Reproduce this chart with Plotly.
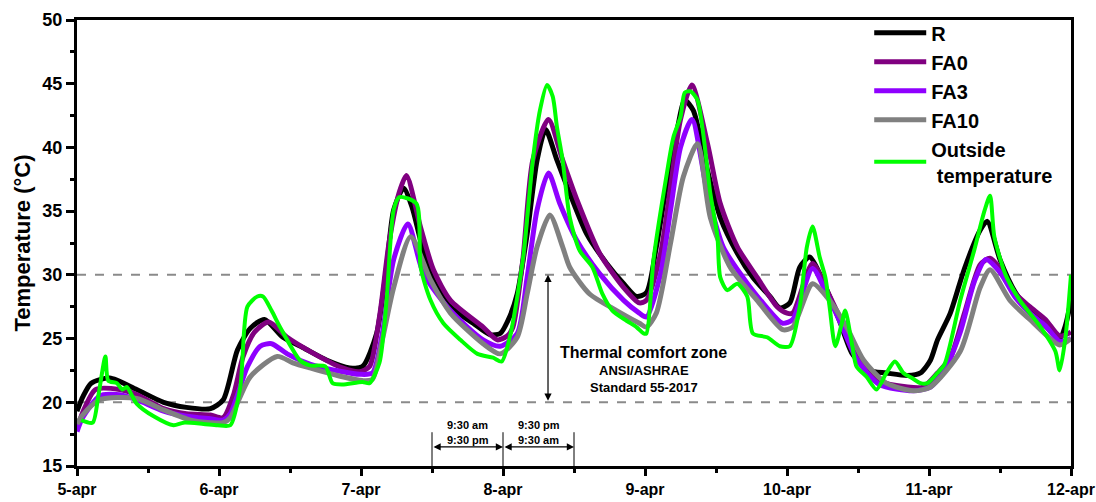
import plotly.graph_objects as go

# ---- data (x = days since 5-apr 00:00) ----
day_labels = ["5-apr", "6-apr", "7-apr", "8-apr", "9-apr", "10-apr", "11-apr", "12-apr"]

r_t = [0, 0.04, 0.10, 0.23, 0.42, 0.61, 0.77, 0.94, 1.03, 1.13, 1.22, 1.32, 1.45, 1.59, 1.76, 1.92,
       2.01, 2.11, 2.18, 2.23, 2.30, 2.36, 2.42, 2.51, 2.63, 2.79, 2.91, 2.98, 3.05, 3.10, 3.17, 3.24,
       3.30, 3.38, 3.47, 3.59, 3.73, 3.85, 3.94, 4.01, 4.08, 4.15, 4.23, 4.28, 4.34, 4.44, 4.53, 4.65,
       4.76, 4.88, 4.95, 5.02, 5.09, 5.16, 5.23, 5.30, 5.37, 5.46, 5.58, 5.70, 5.85, 5.94, 6.01, 6.06,
       6.15, 6.25, 6.36, 6.41, 6.50, 6.61, 6.71, 6.82, 6.92, 6.96, 7.0]
r_v = [19.3, 20.4, 21.5, 21.9, 21.0, 20.0, 19.6, 19.5, 20.2, 24.1, 25.8, 26.5, 25.1, 24.3, 23.3, 22.7,
       22.8, 25.4, 30.6, 35.1, 36.8, 35.3, 32.7, 29.6, 27.5, 26.2, 25.3, 25.4, 26.8, 28.5, 33.2, 39.0,
       41.4, 39.0, 36.4, 33.2, 30.9, 29.3, 28.3, 28.6, 32.2, 36.9, 41.6, 43.7, 42.9, 38.2, 34.5, 31.7,
       29.8, 28.3, 27.4, 27.8, 30.6, 31.4, 30.1, 28.3, 26.4, 23.8, 22.5, 22.3, 22.1, 22.3, 23.3, 24.9,
       27.0, 30.5, 33.5, 34.2, 31.2, 28.6, 27.2, 26.0, 25.0, 26.0, 28.0]

fa0_t = [0, 0.04, 0.13, 0.30, 0.42, 0.61, 0.77, 0.94, 1.03, 1.10, 1.17, 1.25, 1.35, 1.48, 1.64, 1.87,
         1.99, 2.06, 2.13, 2.20, 2.27, 2.32, 2.42, 2.51, 2.63, 2.86, 2.96, 3.03, 3.07, 3.14, 3.21, 3.32,
         3.42, 3.52, 3.68, 3.85, 3.96, 4.01, 4.11, 4.18, 4.25, 4.33, 4.44, 4.53, 4.65, 4.79, 4.93, 5.0,
         5.04, 5.18, 5.28, 5.39, 5.49, 5.65, 5.85, 5.96, 6.06, 6.15, 6.25, 6.36, 6.43, 6.50, 6.61, 6.71,
         6.82, 6.92, 7.0]
fa0_v = [17.9, 19.2, 21.0, 21.0, 20.6, 19.5, 19.1, 19.0, 18.8, 20.5, 23.6, 25.5, 26.3, 25.1, 24.0, 22.7,
         22.4, 22.8, 26.7, 32.7, 36.5, 37.8, 33.7, 30.4, 28.0, 25.9, 24.9, 25.2, 25.9, 31.2, 39.0, 42.2,
         39.0, 35.9, 31.7, 29.0, 27.8, 28.0, 31.7, 36.9, 42.2, 44.9, 40.3, 35.6, 32.2, 29.8, 27.5, 27.0,
         27.0, 30.9, 28.8, 26.2, 23.6, 21.7, 21.2, 21.2, 22.3, 23.5, 27.0, 30.8, 31.3, 30.5, 28.5, 27.5,
         26.5, 25.2, 25.5]

fa3_t = [0, 0.04, 0.16, 0.30, 0.42, 0.61, 0.77, 0.94, 1.03, 1.08, 1.20, 1.29, 1.37, 1.48, 1.64, 1.87,
         1.99, 2.08, 2.15, 2.23, 2.33, 2.44, 2.63, 2.86, 2.98, 3.10, 3.17, 3.24, 3.32, 3.40, 3.52, 3.68,
         3.85, 3.96, 4.01, 4.11, 4.18, 4.25, 4.33, 4.44, 4.55, 4.69, 4.83, 4.97, 5.04, 5.18, 5.28, 5.39,
         5.49, 5.65, 5.89, 6.01, 6.11, 6.22, 6.32, 6.40, 6.50, 6.61, 6.71, 6.82, 6.92, 7.0]
fa3_v = [17.7, 18.8, 20.5, 20.6, 20.2, 19.3, 18.9, 18.7, 18.6, 19.1, 22.8, 24.4, 24.6, 23.8, 23.0, 22.4,
         22.2, 22.3, 25.4, 31.2, 34.0, 30.1, 27.2, 24.9, 24.4, 25.4, 29.8, 35.1, 38.0, 35.6, 32.7, 30.1,
         28.0, 27.0, 26.7, 30.1, 35.1, 40.0, 42.2, 36.4, 32.2, 29.8, 27.8, 26.2, 26.5, 30.5, 28.5, 25.9,
         23.4, 21.4, 20.9, 21.2, 22.5, 25.5, 29.5, 31.2, 30.2, 28.2, 27.0, 26.0, 24.8, 25.0]

fa10_t = [0, 0.04, 0.16, 0.42, 0.61, 0.80, 0.94, 1.03, 1.08, 1.22, 1.41, 1.52, 1.64, 1.87, 2.01, 2.08,
          2.15, 2.23, 2.35, 2.49, 2.63, 2.86, 2.98, 3.10, 3.17, 3.24, 3.33, 3.42, 3.47, 3.61, 3.80, 3.96,
          4.01, 4.08, 4.18, 4.27, 4.37, 4.46, 4.60, 4.79, 4.97, 5.04, 5.18, 5.30, 5.42, 5.54, 5.70, 5.89,
          6.01, 6.22, 6.36, 6.43, 6.57, 6.71, 6.92, 7.0]
fa10_v = [18.3, 19.0, 20.2, 20.3, 19.4, 18.6, 18.4, 18.4, 18.8, 22.0, 23.6, 23.1, 22.7, 22.0, 21.7, 21.8,
          24.9, 29.0, 33.0, 29.6, 27.0, 24.6, 23.8, 25.1, 28.5, 32.2, 34.7, 32.2, 30.6, 28.5, 27.2, 26.2,
          25.9, 27.0, 32.5, 37.7, 40.3, 34.5, 30.6, 28.0, 25.7, 25.9, 29.3, 28.0, 25.9, 23.3, 21.5, 20.9,
          21.2, 24.0, 29.0, 30.4, 28.0, 26.5, 24.5, 25.0]

out_t = [0.03, 0.11, 0.15, 0.20, 0.22, 0.28, 0.32, 0.35, 0.42, 0.54, 0.68, 0.75, 0.89, 0.99, 1.08, 1.15,
         1.20, 1.27, 1.31, 1.37, 1.43, 1.57, 1.64, 1.75, 1.80, 1.87, 2.01, 2.06, 2.13, 2.18, 2.23, 2.27,
         2.39, 2.42, 2.49, 2.58, 2.70, 2.82, 2.93, 2.99, 3.05, 3.14, 3.21, 3.26, 3.31, 3.35, 3.38, 3.42,
         3.47, 3.54, 3.63, 3.70, 3.77, 3.87, 3.94, 3.99, 4.01, 4.06, 4.15, 4.20, 4.25, 4.28, 4.32, 4.37,
         4.46, 4.51, 4.53, 4.58, 4.65, 4.72, 4.76, 4.86, 4.95, 5.02, 5.09, 5.14, 5.18, 5.23, 5.27, 5.30,
         5.34, 5.39, 5.41, 5.46, 5.49, 5.56, 5.63, 5.70, 5.76, 5.82, 5.88, 5.94, 5.99, 6.06, 6.11, 6.22,
         6.32, 6.39, 6.43, 6.46, 6.54, 6.64, 6.78, 6.89, 6.92, 6.96, 7.0]
out_v = [18.6, 18.4, 20.5, 23.6, 21.7, 21.5, 21.0, 21.2, 19.9, 18.9, 18.2, 18.4, 18.3, 18.2, 18.2, 21.2,
         27.5, 28.3, 28.3, 27.2, 25.9, 23.3, 22.9, 22.8, 21.5, 21.4, 21.6, 21.5, 23.1, 28.0, 35.1, 36.1,
         35.6, 30.6, 28.0, 26.2, 24.9, 23.8, 23.5, 23.2, 25.2, 31.2, 39.0, 42.9, 44.9, 44.0, 41.6, 39.0,
         34.5, 31.9, 30.6, 28.5, 27.2, 26.4, 25.9, 25.4, 25.4, 31.2, 37.7, 40.8, 42.4, 44.3, 44.4, 43.7,
         36.4, 33.0, 29.8, 28.8, 29.3, 28.3, 25.4, 25.1, 24.4, 24.4, 27.5, 32.2, 33.8, 31.4, 29.8, 27.5,
         24.4, 26.4, 27.2, 24.4, 22.8, 22.0, 21.0, 22.3, 23.2, 22.3, 21.9, 21.5, 21.5, 22.3, 23.0, 28.0,
         32.0, 35.0, 36.2, 33.0, 30.0, 28.0, 26.0, 24.0, 22.5, 25.0, 30.0]

series = [
    ("R", r_t, r_v, "#000000", 5),
    ("FA0", fa0_t, fa0_v, "#800080", 5),
    ("FA3", fa3_t, fa3_v, "#8f00ff", 5),
    ("FA10", fa10_t, fa10_v, "#808080", 5),
    ("Outside<br> temperature", out_t, out_v, "#00ff00", 4),
]

FONT = "Liberation Sans, Arial, sans-serif"

fig = go.Figure()
for name, t, v, col, w in series:
    fig.add_trace(go.Scatter(
        x=t, y=v, mode="lines", name=name,
        line=dict(color=col, width=w, shape="spline", smoothing=0.7),
    ))

# comfort zone boundaries
for yv in (30, 20):
    fig.add_shape(type="line", xref="paper", x0=0, x1=1, yref="y", y0=yv, y1=yv,
                  line=dict(color="#8a8a8a", width=2, dash="dash"), layer="below")

# vertical double arrow
fig.add_annotation(x=3.317, y=30, ax=3.317, ay=20, xref="x", yref="y", axref="x", ayref="y",
                   text="", showarrow=True, arrowhead=2, arrowside="end+start",
                   arrowsize=1.2, arrowwidth=1.2, arrowcolor="#000000")

fig.add_annotation(x=3.99, y=23.9, xref="x", yref="y", showarrow=False,
                   text="<b>Thermal comfort zone</b>", font=dict(family=FONT, size=16, color="#000"))
fig.add_annotation(x=3.99, y=22.5, xref="x", yref="y", showarrow=False,
                   text="<b>ANSI/ASHRAE</b>", font=dict(family=FONT, size=13, color="#000"))
fig.add_annotation(x=3.99, y=21.15, xref="x", yref="y", showarrow=False,
                   text="<b>Standard 55-2017</b>", font=dict(family=FONT, size=13, color="#000"))

# bottom time markers
for xv in (2.5, 3.0, 3.5):
    fig.add_shape(type="line", xref="x", x0=xv, x1=xv, yref="y", y0=15, y1=17.65,
                  line=dict(color="#000000", width=1))
for a, b in ((2.5, 3.0), (3.0, 3.5)):
    fig.add_annotation(x=b, y=16.5, ax=a, ay=16.5, xref="x", yref="y", axref="x", ayref="y",
                       text="", showarrow=True, arrowhead=2, arrowside="end+start",
                       arrowsize=1.2, arrowwidth=1.2, arrowcolor="#000000")
for xc, top, bot in ((2.75, "9:30 am", "9:30 pm"), (3.25, "9:30 pm", "9:30 am")):
    fig.add_annotation(x=xc, y=18.2, xref="x", yref="y", showarrow=False,
                       text="<b>%s</b>" % top, font=dict(family=FONT, size=11, color="#000"))
    fig.add_annotation(x=xc, y=17.05, xref="x", yref="y", showarrow=False,
                       text="<b>%s</b>" % bot, font=dict(family=FONT, size=11, color="#000"))

fig.update_layout(
    width=1096, height=502,
    margin=dict(l=77, r=25, t=20, b=36),
    paper_bgcolor="white", plot_bgcolor="white",
    font=dict(family=FONT, color="#000"),
    showlegend=True,
    legend=dict(x=0.797, y=1.015, xanchor="left", yanchor="top",
                font=dict(family=FONT, size=20, color="#000", weight="bold"),
                bgcolor="rgba(255,255,255,0)", borderwidth=0, tracegroupgap=0,
                itemwidth=52),
)
fig.update_xaxes(
    range=[0, 7], tickvals=list(range(8)), ticktext=day_labels, automargin=False,
    showgrid=False, zeroline=False, showline=True, linecolor="#000", linewidth=3, mirror=True,
    ticks="outside", ticklen=7, tickwidth=3, tickcolor="#000",
    minor=dict(dtick=0.5, ticks="outside", ticklen=4, tickwidth=3, tickcolor="#000", showgrid=False),
    tickfont=dict(family=FONT, size=16, color="#000", weight="bold"),
)
fig.update_yaxes(
    range=[15, 50], tickvals=[15, 20, 25, 30, 35, 40, 45, 50], automargin=False,
    showgrid=False, zeroline=False, showline=True, linecolor="#000", linewidth=3, mirror=True,
    ticks="outside", ticklen=8, tickwidth=3, tickcolor="#000",
    minor=dict(dtick=2.5, ticks="outside", ticklen=4, tickwidth=3, tickcolor="#000", showgrid=False),
    tickfont=dict(family=FONT, size=18, color="#000", weight="bold"),
    title=dict(text="Temperature (°C)", font=dict(family=FONT, size=22, color="#000", weight="bold"),
               standoff=6),
)

fig.write_html("out.html")
